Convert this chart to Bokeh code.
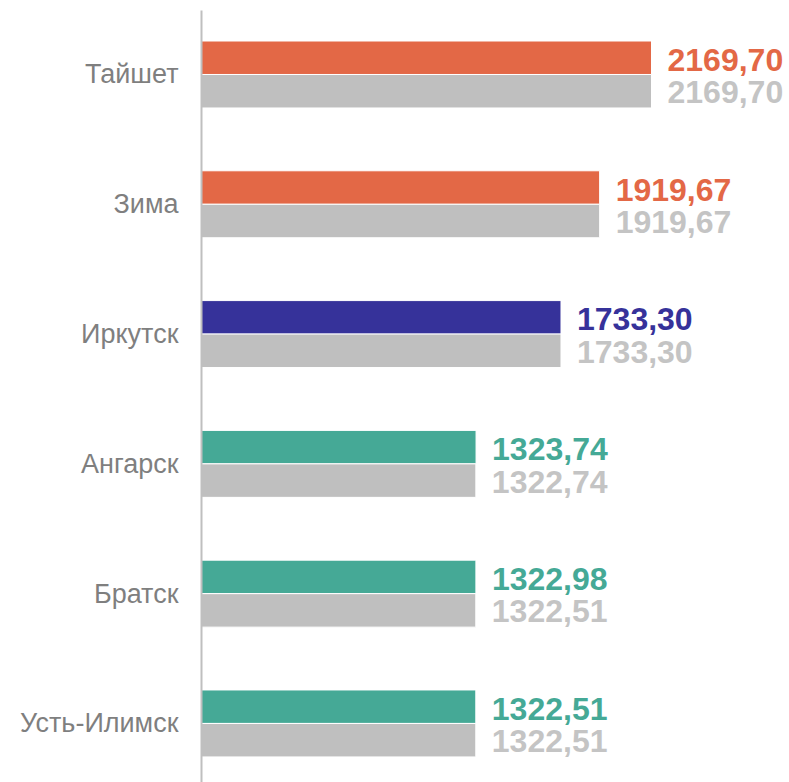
from bokeh.plotting import figure
from bokeh.models import ColumnDataSource, Range1d, FixedTicker
from bokeh.core.properties import value
from bokeh.embed import file_html
from bokeh.resources import INLINE

cities = ["Тайшет", "Зима", "Иркутск", "Ангарск", "Братск", "Усть-Илимск"]
current = [2169.70, 1919.67, 1733.30, 1323.74, 1322.98, 1322.51]
previous = [2169.70, 1919.67, 1733.30, 1322.74, 1322.51, 1322.51]
bar_colors = ["#E36846", "#E36846", "#36329A", "#45A996", "#45A996", "#45A996"]
gray = "#BFBFBF"

def fmt(v):
    return f"{v:.2f}".replace(".", ",")

h = 0.258
pos = [-i for i in range(len(cities))]

src_cur = ColumnDataSource(dict(
    y=[p + h / 2 for p in pos], right=current, color=bar_colors,
    label=[fmt(v) for v in current]))
src_prev = ColumnDataSource(dict(
    y=[p - h / 2 for p in pos], right=previous,
    label=[fmt(v) for v in previous]))

p = figure(width=789, height=782, output_backend="svg", toolbar_location=None,
           x_range=Range1d(0, 2835), y_range=Range1d(-5.455, 0.493),
           min_border_left=201, min_border_right=0, min_border_top=10,
           min_border_bottom=0)
p.outline_line_color = None
p.xgrid.visible = False
p.ygrid.visible = False
p.xaxis.visible = False

p.hbar(y="y", left=0, right="right", height=h, color="color",
       line_color="white", line_width=1, source=src_cur)
p.hbar(y="y", left=0, right="right", height=h, fill_color=gray,
       line_color="white", line_width=1, source=src_prev)

p.text(x="right", y="y", text="label", source=src_cur, x_offset=16, y_offset=2,
       text_baseline="middle", text_align="left", text_color="color",
       text_font=value("Liberation Sans"), text_font_style="bold",
       text_font_size="32px")
p.text(x="right", y="y", text="label", source=src_prev, x_offset=16, y_offset=1,
       text_baseline="middle", text_align="left", text_color="#C4C4C4",
       text_font=value("Liberation Sans"), text_font_style="bold",
       text_font_size="32px")

ya = p.yaxis[0]
ya.ticker = FixedTicker(ticks=pos)
ya.major_label_overrides = {p_: c for p_, c in zip(pos, cities)}
ya.major_tick_line_color = None
ya.minor_tick_line_color = None
ya.axis_line_color = "#BFBFBF"
ya.axis_line_width = 2
ya.major_label_standoff = 17
ya.major_label_text_font = "Liberation Sans"
ya.major_label_text_font_size = "27px"
ya.major_label_text_color = "#7F7F7F"

open("out.html", "w").write(file_html(p, INLINE))
